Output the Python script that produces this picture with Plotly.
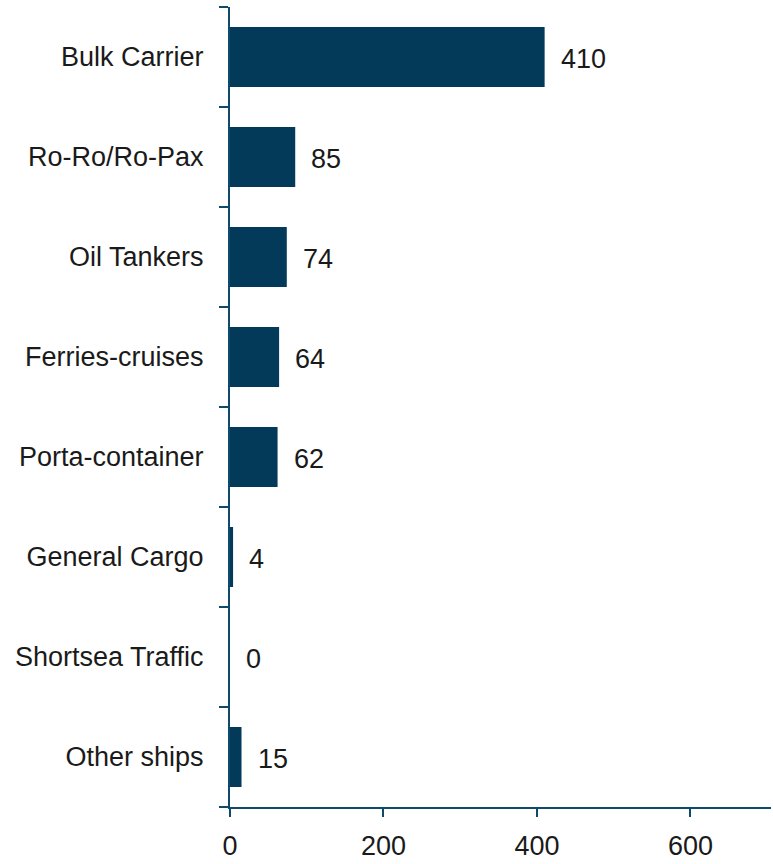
import plotly.graph_objects as go

# Ship categories (top to bottom) and counts
categories = ["Bulk Carrier", "Ro-Ro/Ro-Pax", "Oil Tankers", "Ferries-cruises",
              "Porta-container", "General Cargo", "Shortsea Traffic", "Other ships"]
counts = [410, 85, 74, 64, 62, 4, 0, 15]
x_ticks = [0, 200, 400, 600]

BAR = "#033a5a"
AXIS = "#0e4a6c"
TEXT = "#1a1a1a"
FONT = "Liberation Sans, Arial, sans-serif"
SIZE = 27

fig = go.Figure(go.Bar(
    x=counts, y=categories, orientation="h",
    marker=dict(color=BAR, line=dict(width=0)),
    width=0.6,
))

# value labels to the right of each bar
for c, v in zip(categories, counts):
    fig.add_annotation(x=v, y=c, text=str(v), showarrow=False,
                       xanchor="left", xshift=14, yshift=-2,
                       font=dict(family=FONT, size=SIZE, color=TEXT))

fig.update_layout(
    width=773, height=864,
    margin=dict(l=230, r=2, t=7, b=57),
    paper_bgcolor="white", plot_bgcolor="white",
    showlegend=False,
    font=dict(family=FONT, size=SIZE, color=TEXT),
)
fig.update_yaxes(
    categoryorder="array", categoryarray=categories[::-1],
    showline=True, linecolor=AXIS, linewidth=2,
    ticks="outside", tickson="boundaries", ticklen=9, tickwidth=2, tickcolor=AXIS,
    showgrid=False, zeroline=False,
    tickfont=dict(family=FONT, size=SIZE, color=TEXT),
    ticklabelstandoff=19,
)
fig.update_xaxes(
    range=[0, 705], tickvals=x_ticks,
    showline=True, linecolor=AXIS, linewidth=2,
    ticks="outside", ticklen=8, tickwidth=2, tickcolor=AXIS,
    showgrid=False, zeroline=False,
    tickfont=dict(family=FONT, size=SIZE, color=TEXT),
    ticklabelstandoff=6,
)

fig.write_html("out.html")
